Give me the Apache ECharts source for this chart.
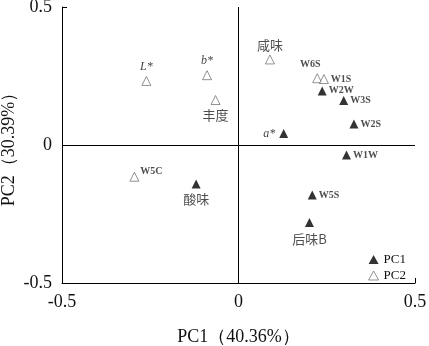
<!DOCTYPE html>
<html>
<head>
<meta charset="utf-8">
<script src="https://cdn.jsdelivr.net/npm/echarts@6/dist/echarts.min.js"></script>
<style>
  html, body { margin: 0; padding: 0; background: #fff; }
  #chart { width: 429px; height: 346px; }
</style>
</head>
<body>
<div id="chart"></div>
<script>
// Loadings on the first two principal components
const pc1Names = ['W2W', 'W3S', 'W2S', 'a*', 'W1W', '酸味', 'W5S', '后味B'];
const pc1X = [0.237, 0.298, 0.327, 0.128, 0.306, -0.120, 0.209, 0.201];
const pc1Y = [0.196, 0.161, 0.076, 0.042, -0.036, -0.141, -0.181, -0.281];

const pc2Names = ['L*', 'b*', '丰度', '咸味', 'W6S', 'W1S', 'W5C'];
const pc2X = [-0.261, -0.089, -0.065, 0.089, 0.223, 0.242, -0.295];
const pc2Y = [0.232, 0.253, 0.163, 0.310, 0.242, 0.239, -0.115];

const xTicks = [-0.5, 0, 0.5];
const yTicks = [-0.5, 0, 0.5];

const SERIF = "'Liberation Serif', 'Times New Roman', serif";
const CJK = "'Noto Sans CJK SC', sans-serif";

// label placement for each point
const labelStyle = {
  'W2W': { position: 'right', distance: 2, kind: 'code' },
  'W3S': { position: 'right', distance: 2, kind: 'code' },
  'W2S': { position: 'right', distance: 2, kind: 'code' },
  'W1W': { position: 'right', distance: 2, kind: 'code' },
  'W5S': { position: 'right', distance: 2, kind: 'code' },
  'W1S': { position: 'right', distance: 2, kind: 'code' },
  'W6S': { position: 'top', distance: 4, offset: [-7, 0], kind: 'code' },
  'W5C': { position: 'right', distance: 1, offset: [0, -5], kind: 'code' },
  'a*': { position: 'left', distance: 4, kind: 'italic' },
  'L*': { position: 'top', distance: 3, kind: 'italic' },
  'b*': { position: 'top', distance: 3, kind: 'italic' },
  '咸味': { position: 'top', distance: 3, kind: 'cjk' },
  '丰度': { position: 'bottom', distance: 4, kind: 'cjk' },
  '酸味': { position: 'bottom', distance: 4, kind: 'cjk' },
  '后味B': { position: 'bottom', distance: 6, kind: 'cjk' }
};

function labelFor(name) {
  const s = labelStyle[name];
  const base = {
    show: true,
    formatter: name,
    position: s.position,
    distance: s.distance,
    color: '#111'
  };
  if (s.offset) base.offset = s.offset;
  if (s.kind === 'code') {
    Object.assign(base, { fontFamily: SERIF, fontSize: 10, fontWeight: 'bold', color: '#222' });
  } else if (s.kind === 'italic') {
    Object.assign(base, { fontFamily: SERIF, fontSize: 12, fontStyle: 'italic' });
  } else {
    Object.assign(base, { fontFamily: CJK, fontSize: 13, color: '#222' });
  }
  return base;
}

function buildData(names, xs, ys) {
  return names.map((n, i) => ({ name: n, value: [xs[i], ys[i]], label: labelFor(n) }));
}

const axisCommon = {
  type: 'value',
  min: -0.5,
  max: 0.5,
  interval: 0.5,
  axisLine: { show: true, onZero: false, lineStyle: { color: '#000', width: 1 } },
  axisTick: { show: true, inside: true, length: 5, lineStyle: { color: '#000' } },
  splitLine: { show: false },
  nameLocation: 'middle',
  nameMoveOverlap: false,
  nameTextStyle: { fontFamily: SERIF, fontSize: 18, color: '#111' }
};

const chart = echarts.init(document.getElementById('chart'), null, { renderer: 'canvas' });

chart.setOption({
  animation: false,
  backgroundColor: '#fff',
  grid: { left: 62, right: 14, top: 7, bottom: 63, outerBoundsMode: 'none', containLabel: false },
  xAxis: Object.assign({}, axisCommon, {
    name: 'PC1（40.36%）',
    nameGap: 45,
    axisLabel: {
      margin: 10, fontFamily: SERIF, fontSize: 18, color: '#111',
      formatter: v => xTicks.includes(+v.toFixed(2)) ? String(+v.toFixed(2)) : ''
    }
  }),
  yAxis: Object.assign({}, axisCommon, {
    name: 'PC2（30.39%）',
    nameGap: 44,
    axisLabel: {
      margin: 10, fontFamily: SERIF, fontSize: 18, color: '#111',
      formatter: v => yTicks.includes(+v.toFixed(2)) ? String(+v.toFixed(2)) : ''
    }
  }),
  legend: {
    orient: 'vertical',
    right: 18,
    top: 248,
    itemWidth: 10,
    itemHeight: 9,
    itemGap: 3,
    textStyle: { fontFamily: SERIF, fontSize: 13, color: '#111' },
    data: [
      { name: 'PC1', icon: 'triangle' },
      { name: 'PC2', icon: 'triangle', itemStyle: { color: '#fff', borderColor: '#555', borderWidth: 0.8 } }
    ]
  },
  series: [
    {
      name: 'PC1',
      type: 'scatter',
      symbol: 'triangle',
      symbolSize: 9,
      itemStyle: { color: '#000' },
      data: buildData(pc1Names, pc1X, pc1Y),
      markLine: {
        silent: true,
        symbol: 'none',
        label: { show: false },
        lineStyle: { color: '#000', width: 1, type: 'solid' },
        data: [{ xAxis: 0 }, { yAxis: 0 }]
      },
      z: 3
    },
    {
      name: 'PC2',
      type: 'scatter',
      symbol: 'triangle',
      symbolSize: 9,
      itemStyle: { color: '#fff', borderColor: '#555', borderWidth: 0.8 },
      data: buildData(pc2Names, pc2X, pc2Y),
      z: 3
    }
  ]
});
</script>
</body>
</html>
